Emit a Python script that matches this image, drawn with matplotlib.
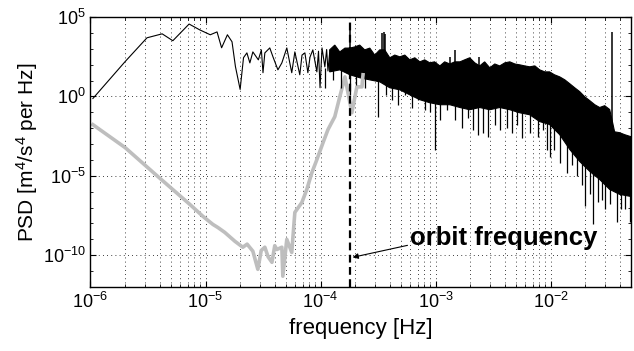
import numpy as np
import matplotlib
matplotlib.use("Agg")
import matplotlib.pyplot as plt
from matplotlib.ticker import LogLocator, NullFormatter, FixedLocator

plt.rcParams['font.family'] = ['Liberation Sans', 'DejaVu Sans']
plt.rcParams['mathtext.fontset'] = 'custom'
plt.rcParams['mathtext.rm'] = 'Liberation Sans'
plt.rcParams['mathtext.it'] = 'Liberation Sans:italic'
plt.rcParams['mathtext.bf'] = 'Liberation Sans:bold'

# black trace, low-frequency part
blk_f = [1.05e-6, 2.0e-6, 3.1e-6, 4.2e-6, 5.2e-6, 7.2e-6, 8.9e-6, 1.1e-5, 1.26e-5,
         1.38e-5, 1.55e-5, 1.7e-5, 1.82e-5, 2.0e-5, 2.14e-5, 2.29e-5, 2.43e-5,
         2.58e-5, 2.88e-5, 3.06e-5, 3.16e-5, 3.28e-5, 3.62e-5, 3.86e-5, 4.26e-5,
         4.61e-5, 5.09e-5, 5.62e-5, 5.98e-5, 6.6e-5, 6.9e-5, 7.31e-5, 7.76e-5,
         8.1e-5, 8.57e-5, 9.29e-5, 9.6e-5, 9.9e-5, 1.03e-4, 1.09e-4, 1.13e-4,
         1.16e-4, 1.2e-4]
blk_p = [0.74, 155, 4900, 8700, 3200, 36000, 15500, 7600, 11500,
         1150, 7600, 2750, 76, 2.75, 275, 550, 129,
         634, 200, 850, 31, 550, 1130, 308, 47,
         129, 1130, 31, 634, 23, 400, 550, 31,
         300, 850, 35, 700, 3.5, 1130, 73, 900,
         40, 550]

# black trace, dense part: top edge and bottom edge of the solid band
top_f = [1.2e-4, 1.33e-4, 1.47e-4, 1.63e-4, 1.8e-4, 1.98e-4, 2.19e-4, 2.42e-4,
         2.68e-4, 2.96e-4, 3.27e-4, 3.61e-4, 4.0e-4, 4.42e-4, 4.89e-4, 5.4e-4,
         5.97e-4, 6.6e-4, 7.3e-4, 8.04e-4, 8.9e-4, 9.8e-4, 1.09e-3, 1.2e-3,
         1.33e-3, 1.47e-3, 1.63e-3, 1.79e-3, 1.98e-3, 2.19e-3, 2.42e-3, 2.67e-3,
         2.96e-3, 3.27e-3, 3.61e-3, 4.0e-3, 4.42e-3, 4.89e-3, 5.4e-3, 5.97e-3,
         6.58e-3, 7.3e-3, 8.04e-3, 8.9e-3, 9.8e-3, 1.08e-2, 1.2e-2, 1.33e-2,
         1.47e-2, 1.62e-2, 1.79e-2, 1.98e-2, 2.19e-2, 2.42e-2, 2.67e-2, 2.95e-2,
         3.26e-2, 3.4e-2, 3.6e-2, 3.98e-2, 4.4e-2, 5.0e-2]
top_p = [850, 1700, 630, 1100, 1100, 1300, 1700, 850,
         1100, 400, 850, 850, 270, 400, 310, 400,
         200, 270, 150, 200, 130, 150, 83, 150,
         110, 150, 150, 200, 270, 130, 83, 150,
         63, 110, 83, 130, 150, 110, 97, 83,
         73, 83, 47, 35, 35, 23, 17, 11,
         6.2, 3.5, 2.0, 0.95, 0.54, 0.3, 0.2, 0.26,
         0.15, 0.04, 5.9e-3, 5.2e-3, 3.9e-3, 2.9e-3]
bot_f = [1.2e-4, 1.47e-4, 1.8e-4, 2.19e-4, 2.68e-4, 3.27e-4, 4.0e-4, 4.89e-4,
         5.97e-4, 7.3e-4, 8.9e-4, 1.09e-3, 1.33e-3, 1.63e-3, 1.98e-3, 2.42e-3,
         2.96e-3, 3.61e-3, 4.42e-3, 5.4e-3, 6.58e-3, 8.04e-3, 9.8e-3, 1.2e-2,
         1.47e-2, 1.79e-2, 2.19e-2, 2.67e-2, 3.26e-2, 3.98e-2, 5.0e-2]
bot_p = [35, 47, 23, 15, 11, 8.3, 3.5, 2.6,
         1.26, 0.62, 0.4, 0.3, 0.3, 0.2, 0.145, 0.2,
         0.145, 0.2, 0.145, 0.093, 0.07, 0.026, 0.017, 3.9e-3,
         4.5e-4, 8e-5, 1.9e-5, 5.9e-6, 1.4e-6, 6.8e-7, 5e-7]

# single spikes pointing down out of the band
spk_f = [1.09e-4, 1.28e-4, 1.5e-4, 1.8e-4, 2.03e-4, 2.43e-4, 3.15e-4, 3.69e-4,
         4.16e-4, 4.69e-4, 5.4e-4, 6.21e-4, 7.0e-4, 8.05e-4, 8.9e-4, 9.8e-4,
         1.09e-3, 1.25e-3, 1.47e-3, 1.69e-3, 1.91e-3, 2.1e-3, 2.33e-3, 2.57e-3,
         2.84e-3, 3.27e-3, 3.61e-3, 4.16e-3, 4.59e-3, 5.08e-3, 5.61e-3, 6.59e-3,
         7.73e-3, 8.54e-3, 9.25e-3, 9.8e-3, 1.08e-2, 1.2e-2, 1.38e-2, 1.52e-2,
         1.69e-2, 1.86e-2, 1.98e-2, 2.19e-2, 2.32e-2, 2.57e-2, 2.78e-2, 2.95e-2,
         3.26e-2, 3.75e-2, 4.06e-2, 4.4e-2, 4.86e-2]
spk_lo = [3.5, 11, 3.5, 1.26, 5.4, 3.5, 0.053, 1.26,
          0.62, 0.3, 1.26, 0.19, 0.62, 0.145, 0.11, 4.5e-4,
          0.034, 0.145, 0.034, 0.011, 0.046, 8.1e-3, 3.9e-3, 5.2e-3,
          2.9e-3, 0.017, 8.1e-3, 0.011, 5.2e-3, 0.017, 2.5e-3, 5.2e-3,
          2.9e-3, 8.1e-3, 4.5e-4, 1.6e-4, 4.5e-4, 6.8e-5, 1.6e-5, 5.1e-5,
          9.1e-6, 2.8e-6, 1.2e-7, 6.8e-7, 8.7e-9, 2.1e-7, 3.2e-7, 7.6e-8,
          1.6e-7, 1.2e-8, 7.6e-8, 7.6e-8, 1.2e-8]
spk_hi = [60, 60, 60, 40, 30, 20, 15, 10,
          5, 4, 3, 2, 1.5, 1, 0.8, 0.6,
          0.5, 0.5, 0.4, 0.3, 0.3, 0.3, 0.3, 0.3,
          0.3, 0.3, 0.3, 0.3, 0.3, 0.2, 0.2, 0.15,
          0.05, 0.05, 0.04, 0.03, 0.02, 6e-3, 2e-3, 1e-3,
          5e-4, 2e-4, 1e-4, 5e-5, 3e-5, 1e-5, 8e-6, 5e-6,
          3e-6, 1e-6, 1e-6, 1e-6, 1e-6]

# single spikes pointing up out of the band
up_f = [1.8e-4, 3.45e-4, 3.55e-4, 3.65e-4, 1.33e-3, 1.47e-3, 2.0e-3, 2.4e-3, 3.4e-2]
up_lo = [300, 300, 300, 300, 30, 30, 30, 30, 1e-3]
up_hi = [2e4, 1e4, 1.1e4, 9e3, 310, 850, 270, 300, 1.15e4]

# grey trace
gry_f = [1.05e-6, 2.0e-6, 3.85e-6, 7.3e-6, 9.5e-6, 1.16e-5, 1.28e-5, 1.47e-5,
         1.8e-5, 2.11e-5, 2.3e-5, 2.58e-5, 2.85e-5, 3.05e-5, 3.28e-5, 3.5e-5,
         3.78e-5, 4.0e-5, 4.17e-5, 4.61e-5, 4.7e-5, 5.09e-5, 5.62e-5, 5.98e-5,
         6.88e-5, 7.6e-5, 8.41e-5, 9.29e-5, 1.05e-4, 1.16e-4, 1.33e-4, 1.47e-4,
         1.63e-4, 1.8e-4, 1.87e-4, 2.07e-4, 2.29e-4, 2.34e-4]
gry_p = [0.0166, 6.0e-4, 9.1e-6, 1.6e-7, 2.8e-8, 8.7e-9, 5.6e-9, 2.75e-9,
         7.6e-10, 3.2e-10, 5e-10, 1.8e-10, 1.3e-11, 2e-10, 3.2e-10, 8e-11,
         3.6e-11, 4e-10, 2.3e-10, 3.2e-10, 4.8e-12, 1e-9, 1.5e-10, 5e-8,
         2.1e-7, 1.4e-6, 1.6e-5, 1.05e-4, 1.2e-3, 8.1e-3, 0.053, 0.95,
         17, 0.4, 0.093, 4.0, 4.0, 23]

f_orbit = 1.8e-4

fig = plt.figure(figsize=(6.34, 3.51), dpi=100)
ax = fig.add_axes([0.1427, 0.1823, 0.9953 - 0.1427, 0.9516 - 0.1823])

ax.loglog(gry_f, gry_p, color='#bebebe', lw=2.6)
ax.loglog(blk_f, blk_p, color='k', lw=0.8)
# solid band between top and bottom edge
ax.fill(np.concatenate([top_f, bot_f[::-1]]), np.concatenate([top_p, bot_p[::-1]]),
        color='k', lw=0.8)
ax.vlines(spk_f, spk_lo, spk_hi, color='k', lw=0.9)
ax.vlines(up_f, up_lo, up_hi, color='k', lw=1.1)
ax.axvline(f_orbit, color='k', ls='--', lw=1.6, dashes=(3.5, 2))

ax.set_xlim(1e-6, 5e-2)
ax.set_ylim(1e-12, 1e5)
ax.yaxis.set_major_locator(FixedLocator([1e-10, 1e-5, 1e0, 1e5]))
ax.yaxis.set_minor_locator(LogLocator(base=10, subs=(1.0,), numticks=40))
ax.yaxis.set_minor_formatter(NullFormatter())
ax.xaxis.set_minor_formatter(NullFormatter())

grid_ls = (0, (1, 4))
ax.grid(True, which='major', ls=grid_ls, color='k', lw=0.6)
ax.grid(True, which='minor', axis='x', ls=grid_ls, color='k', lw=0.6)
ax.tick_params(which='both', direction='in', top=True, right=True, labelsize=13)
ax.tick_params(which='major', length=4)
ax.tick_params(which='minor', length=2)
for s in ax.spines.values():
    s.set_linewidth(1.0)

ax.set_xlabel('frequency [Hz]', fontsize=16, labelpad=4)
ax.set_ylabel(r'PSD [m$^4$/s$^4$ per Hz]', fontsize=15, labelpad=2)

ax.text(6.0e-4, 1.2e-9, 'orbit frequency', fontsize=18.5, fontweight='bold',
        va='center', ha='left')
ax.annotate('', xy=(1.9e-4, 7.4e-11), xytext=(5.7e-4, 4.2e-10),
            arrowprops=dict(arrowstyle='-|>', color='k', lw=0.8,
                            mutation_scale=8, shrinkA=0, shrinkB=0))

fig.savefig('out.png', dpi=100)
